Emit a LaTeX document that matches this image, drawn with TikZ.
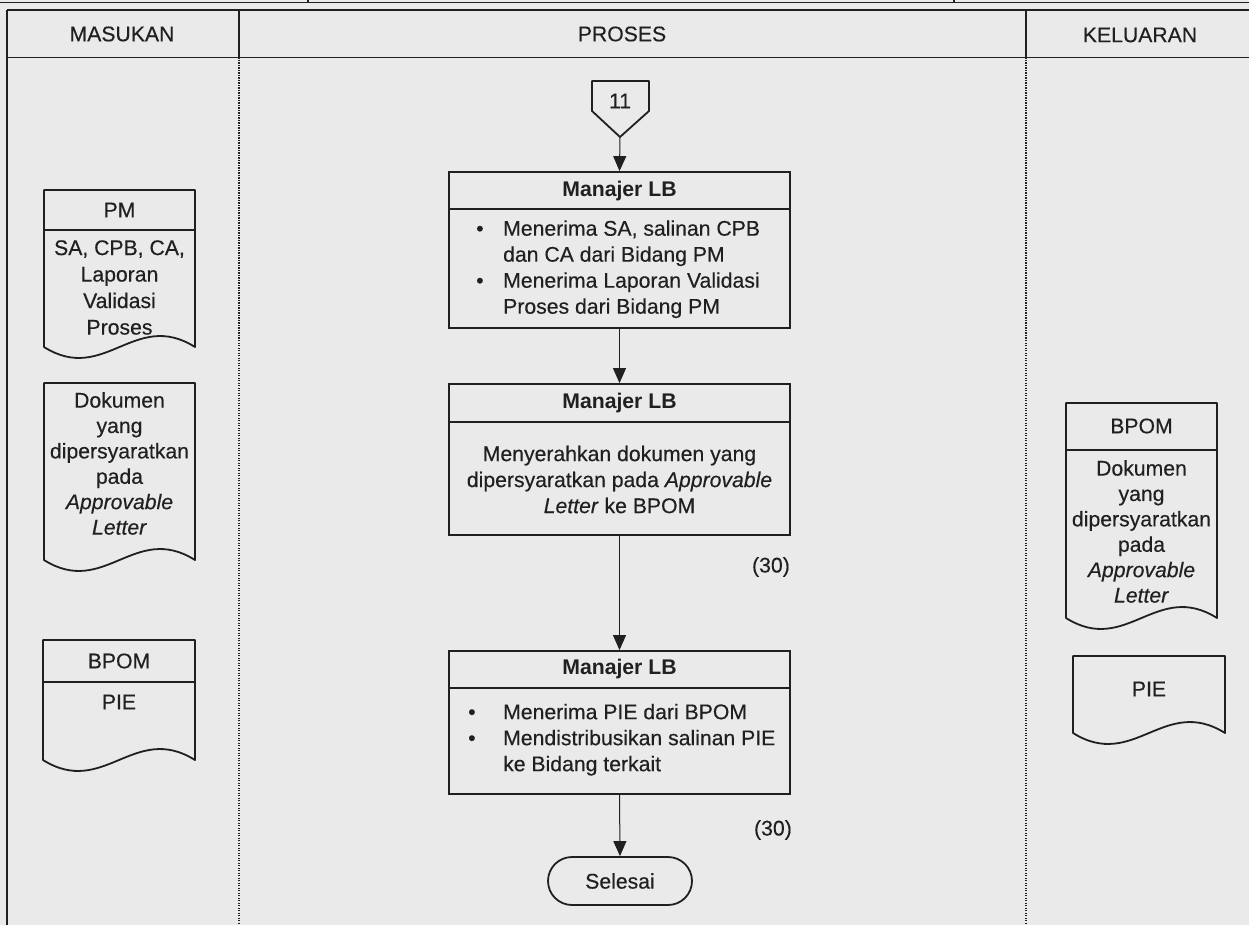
\documentclass[tikz,border=0pt]{standalone}
\usepackage{fontspec}
\setmainfont{Liberation Sans}[UprightFeatures={FakeBold=0.35},ItalicFeatures={FakeBold=0.35}]
\usetikzlibrary{arrows.meta,calc}

\definecolor{paper}{RGB}{234,234,234}
\definecolor{ink}{RGB}{32,32,32}

% document symbol: left x, right x, top y, y where the sides end
\newcommand\docshape[4]{%
  \draw[docline] (#1,#4) -- (#1,#3) -- (#2,#3) -- (#2,#4)
    .. controls ({#2-0.4*(#2-#1)},{#4-38}) and ({#1+0.4*(#2-#1)},{#4+38}) .. (#1,#4) -- cycle;}

\tikzset{
  every node/.style={font=\fontsize{21.2}{26}\selectfont, text=ink},
  tab/.style={draw=ink, line width=1.8pt},
  lane/.style={draw=ink, line width=1.6pt, dash pattern=on 1.2pt off 1.3pt},
  docline/.style={draw=ink, line width=1.8pt, line join=round},
  procbox/.style={draw=ink, line width=1.8pt, minimum width=341pt, inner sep=0pt},
  divline/.style={draw=ink, line width=1.6pt},
  flow/.style={draw=ink, line width=1pt, -{Triangle[length=15pt,width=13pt]}},
  term/.style={draw=ink, line width=1.8pt, rounded corners=24pt, minimum width=144pt, minimum height=48pt, inner sep=0pt},
  plain/.style={inner sep=0pt, align=center},
  titletext/.style={inner sep=0pt, font=\fontsize{21.2}{26}\selectfont\bfseries},
}

\begin{document}
\begin{tikzpicture}[x=1pt,y=-1pt]
  \fill[paper] (0,0) rectangle (1249,925);
  \useasboundingbox (0,0) rectangle (1249,925);

  % remains of the row above
  \draw[tab] (0,2.5) -- (1249,2.5);
  \draw[tab] (308,-2) -- (308,2.5);
  \draw[tab] (954,-2) -- (954,2.5);

  % table header and lanes
  \draw[tab] (7,10) -- (1252,10);
  \draw[tab] (7,57.5) -- (1252,57.5);
  \draw[tab] (7,10) -- (7,930);
  \draw[tab] (239,10) -- (239,57.5);
  \draw[tab] (1026,10) -- (1026,57.5);
  \draw[lane] (239,57.5) -- (239,930);
  \draw[lane] (1026,57.5) -- (1026,930);

  \node[plain] (hin) at (122,34) {MASUKAN};
  \node[plain] (hproc) at (622,34) {PROSES};
  \node[plain] (hout) at (1140,35) {KELUARAN};

  % inputs
  \docshape{44}{195}{190}{347}
  \draw[divline] (44,230) -- (195,230);
  \node[plain] (in1h) at (119.5,210) {PM};
  \node[plain, font=\fontsize{21.2}{26.5}\selectfont] (in1b) at (119.5,287.5) {SA, CPB, CA,\\Laporan\\Validasi\\Proses};

  \docshape{44}{195}{383}{560}
  \node[plain, font=\fontsize{21.2}{25.4}\selectfont] (in2b) at (119.5,463.5) {Dokumen\\yang\\dipersyaratkan\\pada\\\textit{Approvable}\\\textit{Letter}};

  \docshape{43}{195}{640}{760}
  \draw[divline] (43,682) -- (195,682);
  \node[plain] (in3h) at (119,661) {BPOM};
  \node[plain] (in3b) at (119,702) {PIE};

  % process
  \draw[docline] (592,81) -- (649,81) -- (649,111) -- (620,137) -- (592,111) -- cycle;
  \node[plain] (c11) at (620,101) {11};
  \coordinate (c11tip) at (620,137);

  \node[procbox, minimum height=156pt] (b1) at (619.5,250) {};
  \draw[divline] (449,209) -- (790,209);
  \node[titletext] (b1t) at (619.5,191) {Manajer LB};
  \node[anchor=west, inner sep=0pt] (b1b) at (476,269.5) {\begin{tabular}{@{}p{27pt}@{}l@{}}
    \textbullet & Menerima SA, salinan CPB\\
                & dan CA dari Bidang PM\\
    \textbullet & Menerima Laporan Validasi\\
                & Proses dari Bidang PM
  \end{tabular}};

  \node[procbox, minimum height=151pt] (b2) at (619.5,459.5) {};
  \draw[divline] (449,422) -- (790,422);
  \node[titletext] (b2t) at (619.5,403) {Manajer LB};
  \node[plain] (b2b) at (619.5,479.5) {Menyerahkan dokumen yang\\dipersyaratkan pada \textit{Approvable}\\\textit{Letter} ke BPOM};

  \node[procbox, minimum height=143pt] (b3) at (619.5,722.5) {};
  \draw[divline] (449,688) -- (790,688);
  \node[titletext] (b3t) at (619.5,669) {Manajer LB};
  \node[anchor=west, inner sep=0pt] (b3b) at (468,740) {\begin{tabular}{@{}p{35pt}@{}l@{}}
    \textbullet & Menerima PIE dari BPOM\\
    \textbullet & Mendistribusikan salinan PIE\\
                & ke Bidang terkait
  \end{tabular}};

  \node[term] (end) at (620,881) {Selesai};

  \node[anchor=east, inner sep=0pt] (t1) at (790,567) {(30)};
  \node[anchor=east, inner sep=0pt] (t2) at (792,830) {(30)};

  \draw[flow] (c11tip) -- (b1.north);
  \draw[flow] (b1.south) -- (b2.north);
  \draw[flow] (b2.south) -- (b3.north);
  \draw[flow] (b3.south) -- (end.north);

  % outputs
  \docshape{1066}{1217}{403}{618}
  \draw[divline] (1066,450) -- (1217,450);
  \node[plain] (out1h) at (1141.5,426) {BPOM};
  \node[plain, font=\fontsize{21.2}{25.4}\selectfont] (out1b) at (1141.5,531.5) {Dokumen\\yang\\dipersyaratkan\\pada\\\textit{Approvable}\\\textit{Letter}};

  \docshape{1073}{1225}{656}{733}
  \node[plain] (out2b) at (1149,689) {PIE};
\end{tikzpicture}
\end{document}
